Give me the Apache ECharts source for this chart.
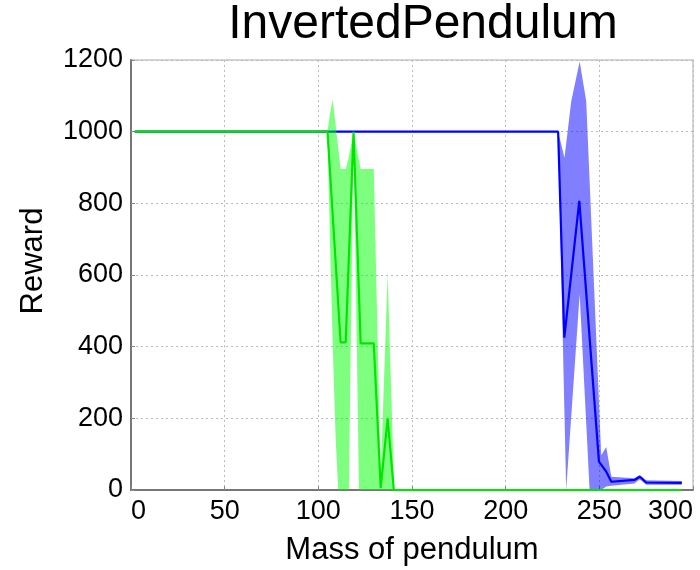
<!DOCTYPE html>
<html>
<head>
<meta charset="utf-8">
<script src="https://cdn.jsdelivr.net/npm/echarts@6/dist/echarts.min.js"></script>
<style>html,body{margin:0;padding:0;background:#fff;}#c{width:700px;height:570px;}</style>
</head>
<body>
<div id="c"></div>
<script>
// ---- data ----
const xTicks = [0, 50, 100, 150, 200, 250, 300];
const yTicks = [0, 200, 400, 600, 800, 1000, 1200];

// blue mean curve
const blueX = [2, 228, 231.3, 239.3, 249.8, 253.7, 256.4, 268.7, 271.6, 275, 294];
const blueY = [1000, 1000, 425, 807, 79, 51, 23, 28, 37, 21, 20];
// blue band
const blueBandX    = [228, 231.4, 232.3, 235, 239.5, 243, 244.8, 251, 253.7, 256.4, 268.7, 271.6, 275, 294];
const blueBandLow  = [1000, 210, 0, 205, 547, 186, 0, 0, 10, 12, 18, 30, 15, 15];
const blueBandHigh = [1000, 927, 966, 1085, 1196, 1085, 863, 97, 120, 37, 33, 42, 27, 25];

// green mean curve
const greenX = [2, 104.9, 111.9, 114.6, 118.8, 122.6, 129.6, 133.3, 137.0, 140.3, 294];
const greenY = [1000, 1000, 412, 412, 1000, 409, 409, 6, 200, 0, 0];
// green band
const greenBandX    = [104.9, 106.2, 107.7, 109.2, 110.6, 111.9, 114.6, 116.3, 118.8, 121.7, 122.6, 129.6, 133.3, 137.0, 140.5];
const greenBandLow  = [1000, 700, 400, 150, 0, 0, 0, 0, 1000, 0, 0, 0, 0, 0, 0];
const greenBandHigh = [1000, 1050, 1090, 1020, 955, 896, 896, 930, 1000, 920, 896, 896, 40, 604, 0];

const zip = (xs, ys) => xs.map((x, i) => [x, ys[i]]);

const FONT = 'Liberation Sans';

// band polygon drawn through the cartesian coordinate system
function band(name, xs, lo, hi, color, z) {
  return {
    name: name, type: 'custom', coordinateSystem: 'cartesian2d', silent: true, z: z,
    data: xs.map((x, i) => [x, lo[i], hi[i]]),
    encode: { x: 0, y: [1, 2] },
    clip: true,
    renderItem: function (params, api) {
      if (params.dataIndex !== 0) return null;
      const pts = [];
      for (let i = 0; i < xs.length; i++) pts.push(api.coord([xs[i], hi[i]]));
      for (let i = xs.length - 1; i >= 0; i--) pts.push(api.coord([xs[i], lo[i]]));
      return { type: 'polygon', shape: { points: pts }, style: { fill: color } };
    }
  };
}

const chart = echarts.init(document.getElementById('c'), null, { renderer: 'canvas' });
chart.setOption({
  animation: false,
  backgroundColor: '#ffffff',
  title: {
    text: 'InvertedPendulum', left: 418, top: -4, textAlign: 'center',
    textStyle: { fontFamily: FONT, fontSize: 48, fontWeight: 'normal', color: '#000' }
  },
  grid: { left: 131, right: 7, top: 60, bottom: 80, show: true, borderColor: '#c8c8c8', borderWidth: 1.5,
          containLabel: false, outerBoundsMode: 'none' },
  xAxis: {
    type: 'value', min: 0, max: 300, interval: 50,
    name: 'Mass of pendulum', nameLocation: 'middle', nameGap: 45,
    nameTextStyle: { fontFamily: FONT, fontSize: 31, color: '#000' },
    axisLine: { show: true, onZero: false, lineStyle: { color: '#777', width: 2 } },
    axisTick: { show: true, inside: true, length: 4, lineStyle: { color: '#888' } },
    axisLabel: { fontFamily: FONT, fontSize: 27, color: '#000', margin: 8,
      alignMinLabel: 'left', alignMaxLabel: 'right',
      formatter: v => xTicks.includes(v) ? String(v) : '' },
    splitLine: { show: true, lineStyle: { color: '#bbb', type: [2, 3], width: 1 } }
  },
  yAxis: {
    type: 'value', min: 0, max: 1200, interval: 200,
    name: 'Reward', nameLocation: 'middle', nameGap: 82, nameRotate: 90,
    nameTextStyle: { fontFamily: FONT, fontSize: 31, color: '#000', padding: [0, 0, 0, 28] },
    axisLine: { show: true, onZero: false, lineStyle: { color: '#777', width: 2 } },
    axisTick: { show: true, inside: true, length: 4, lineStyle: { color: '#888' } },
    axisLabel: { fontFamily: FONT, fontSize: 27, color: '#000', margin: 8,
      formatter: v => yTicks.includes(v) ? String(v) : '' },
    splitLine: { show: true, lineStyle: { color: '#bbb', type: [2, 3], width: 1 } }
  },
  series: [
    band('blueBand', blueBandX, blueBandLow, blueBandHigh, 'rgba(0,0,255,0.5)', 1),
    { name: 'blue', type: 'line', data: zip(blueX, blueY), symbol: 'none',
      lineStyle: { color: '#0000ff', width: 2.2 }, z: 2 },
    band('greenBand', greenBandX, greenBandLow, greenBandHigh, 'rgba(0,255,0,0.5)', 3),
    { name: 'green', type: 'line', data: zip(greenX, greenY), symbol: 'none',
      lineStyle: { color: '#00e600', width: 2.2 }, z: 4 }
  ]
});
</script>
</body>
</html>
